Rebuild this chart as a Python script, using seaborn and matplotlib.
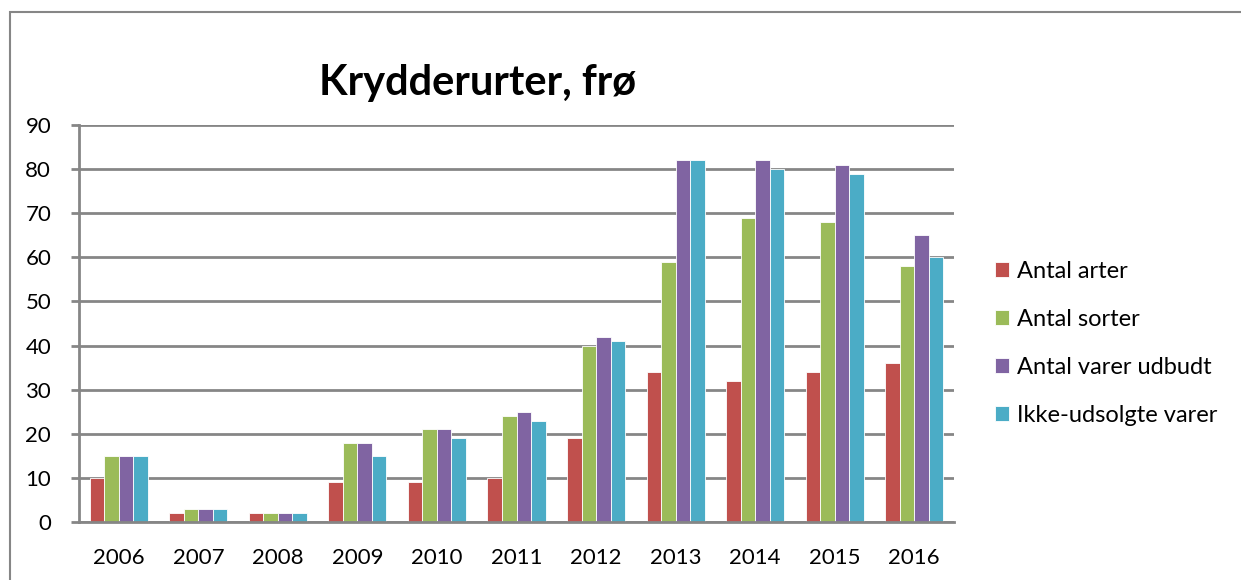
import matplotlib
matplotlib.use("Agg")
import matplotlib.pyplot as plt
import seaborn as sns
import pandas as pd
from matplotlib.patches import Rectangle

years = ["2006", "2007", "2008", "2009", "2010", "2011", "2012", "2013", "2014", "2015", "2016"]
antal_arter = [10, 2, 2, 9, 9, 10, 19, 34, 32, 34, 36]
antal_sorter = [15, 3, 2, 18, 21, 24, 40, 59, 69, 68, 58]
antal_varer = [15, 3, 2, 18, 21, 25, 42, 82, 82, 81, 65]
ikke_udsolgte = [15, 3, 2, 15, 19, 23, 41, 82, 80, 79, 60]
series_names = ["Antal arter", "Antal sorter", "Antal varer udbudt", "Ikke-udsolgte varer"]
colors = ["#C0504D", "#9BBB59", "#8064A2", "#4BACC6"]

rows = []
for name, vals in zip(series_names, [antal_arter, antal_sorter, antal_varer, ikke_udsolgte]):
    for y, v in zip(years, vals):
        rows.append({"Year": y, "Serie": name, "Value": v})
df = pd.DataFrame(rows)

sns.set_theme(style="white")
plt.rcParams['font.family'] = ['Lato', 'DejaVu Sans']
plt.rcParams['text.color'] = 'black'
plt.rcParams['xtick.color'] = 'black'
plt.rcParams['ytick.color'] = 'black'

fig = plt.figure(figsize=(12.41, 5.8), dpi=100)
ax = fig.add_axes([79/1241, 1-522/580, (954-79)/1241, (522-125)/580])

sns.barplot(data=df, x="Year", y="Value", hue="Serie", palette=colors,
            width=0.73, gap=0, ax=ax, edgecolor="white", linewidth=0.6,
            errorbar=None, saturation=1)

ax.set_ylim(0, 90)
ax.set_yticks(range(0, 91, 10))
ax.set_xlim(-0.5, len(years) - 0.5)
ax.yaxis.grid(True, color="#868686", linewidth=2)
ax.set_axisbelow(True)
for s in ["top", "right"]:
    ax.spines[s].set_visible(False)
for s in ["left", "bottom"]:
    ax.spines[s].set_color("#868686")
    ax.spines[s].set_linewidth(2)
ax.set_xlabel("")
ax.set_ylabel("")

# x ticks: labels at centers, tick marks at boundaries
ax.set_xticks(range(len(years)))
ax.set_xticklabels(years, fontsize=16, color="black")
ax.tick_params(axis="x", length=0, pad=19)
ax.set_xticks([i - 0.5 for i in range(len(years) + 1)], minor=True)
ax.tick_params(axis="x", which="minor", length=6, width=2, color="#868686", direction="out")
ax.tick_params(axis="y", length=6, width=2, color="#868686", labelsize=16, pad=14, left=True,
               labelcolor="black")

ax.set_title("Krydderurter, frø", fontsize=30, fontweight="bold", pad=0, x=0.455, y=1.075,
             color="black")

leg = ax.legend(loc="center left", bbox_to_anchor=(1.022, 0.45), frameon=False,
                fontsize=17, handlelength=0.62, handleheight=0.62, handletextpad=0.35,
                labelspacing=1.15)
for t in leg.get_texts():
    t.set_color("black")

fig.patches.append(Rectangle((10/1241, -0.1), 1.2, 1 - 12/580 + 0.1, transform=fig.transFigure,
                             fill=False, edgecolor="#868686", linewidth=1.5))

fig.savefig("out.png", dpi=100)
